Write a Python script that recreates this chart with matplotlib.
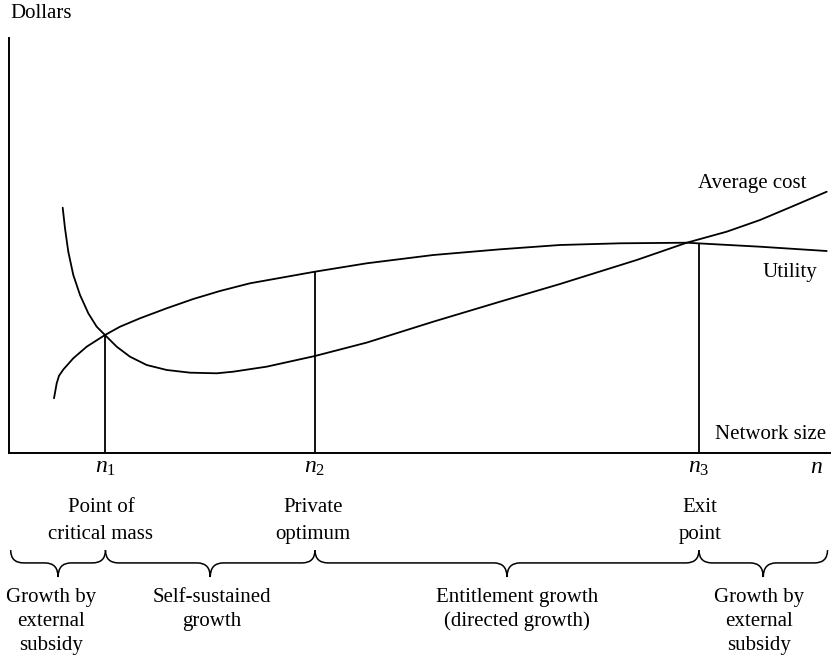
import matplotlib
matplotlib.use('agg')
import matplotlib.pyplot as plt
from matplotlib.path import Path
from matplotlib.patches import PathPatch

plt.rcParams['font.family'] = 'Liberation Serif'
plt.rcParams['mathtext.fontset'] = 'custom'
plt.rcParams['mathtext.rm'] = 'Liberation Serif'
plt.rcParams['mathtext.it'] = 'Liberation Serif:italic'

# curves (network size 0-100, dollars 0-100)
cost_x = [6.54, 6.82, 7.22, 7.83, 8.65, 9.66, 10.68, 11.69, 13.12, 14.74, 16.77,
          19.21, 22.05, 25.30, 27.32, 31.39, 37.27, 43.57, 51.68, 59.81, 67.11,
          76.46, 82.55, 87.42, 91.47, 95.53, 99.60]
cost_y = [59.11, 54.14, 48.51, 42.89, 38.07, 33.66, 30.43, 28.43, 25.61, 23.20, 21.20,
          20.0, 19.35, 19.20, 19.59, 20.80, 23.37, 26.60, 31.64, 36.46, 40.72,
          46.51, 50.67, 53.33, 56.14, 59.52, 62.96]

util_x = [5.48, 5.81, 6.09, 6.61, 7.83, 9.46, 11.69, 13.52, 15.96, 19.21, 22.45,
          25.70, 29.35, 37.27, 43.57, 51.68, 59.81, 67.11, 74.42, 82.55, 91.47, 99.60]
util_y = [13.18, 16.80, 18.60, 20.10, 22.82, 25.61, 28.43, 30.43, 32.46, 34.87, 37.11,
          39.04, 40.89, 43.69, 45.71, 47.71, 49.08, 50.12, 50.53, 50.67, 49.71, 48.67]

# n1, n2, n3 and the heights of their drop lines
n_pos = [11.75, 37.27, 84.04]
n_top = [28.43, 43.69, 50.4]
n_labels = ['$n_1$', '$n_2$', '$n_3$']
point_labels = [['Point of', 'critical mass'], ['Private', 'optimum'], ['Exit', 'point']]
point_x = [11.2, 37.0, 84.2]

brace_edges = [0.2, 11.75, 37.27, 84.04, 99.7]
phase_labels = [['Growth by', 'external', 'subsidy'],
                ['Self-sustained', 'growth'],
                ['Entitlement growth', '(directed growth)'],
                ['Growth by', 'external', 'subsidy']]
phase_x = [5.1, 24.7, 61.9, 91.35]

fig = plt.figure(figsize=(8.34, 6.58), dpi=100)
ax = fig.add_axes([0.0108, 0.3116, 0.9844, 0.6306])
ax.set_xlim(0, 100)
ax.set_ylim(0, 100)
for s in ['top', 'right']:
    ax.spines[s].set_visible(False)
ax.spines['left'].set_linewidth(1.4)
ax.spines['bottom'].set_linewidth(1.4)
ax.set_xticks([])
ax.set_yticks([])

ax.plot(cost_x, cost_y, color='black', lw=1.3, solid_capstyle='round',
        solid_joinstyle='round')
ax.plot(util_x, util_y, color='black', lw=1.3, solid_capstyle='round',
        solid_joinstyle='round')
ax.vlines(n_pos, 0, n_top, colors='black', lw=1.3)

fs = 15
ax.text(0.12, 105.8, 'Dollars', fontsize=fs, ha='left', va='center', clip_on=False)
ax.text(90.5, 65.06, 'Average cost', fontsize=fs, ha='center', va='center')
ax.text(95.07, 43.6, 'Utility', fontsize=fs, ha='center', va='center')
ax.text(92.75, 4.34, 'Network size', fontsize=fs, ha='center', va='center')

for x, lab in zip(n_pos, n_labels):
    ax.text(x, -3.6, lab, fontsize=17, ha='center', va='center', clip_on=False)
ax.text(98.4, -3.6, '$n$', fontsize=17, ha='center', va='center', clip_on=False)

for x, lines in zip(point_x, point_labels):
    for i, line in enumerate(lines):
        ax.text(x, -13.25 - i * 6.5, line, fontsize=fs, ha='center', va='center',
                clip_on=False)

for x, lines in zip(phase_x, phase_labels):
    for i, line in enumerate(lines):
        ax.text(x, -34.9 - i * 5.7, line, fontsize=fs, ha='center', va='center',
                clip_on=False)


def brace(x0, x1, y_top=-23.4, y_mid=-26.5, y_bot=-29.9, r=1.6):
    xc = (x0 + x1) / 2
    verts = [(x0, y_top), (x0, y_mid), (x0 + r, y_mid),
             (xc - r, y_mid),
             (xc, y_mid), (xc, y_bot),
             (xc, y_mid), (xc + r, y_mid),
             (x1 - r, y_mid),
             (x1, y_mid), (x1, y_top)]
    codes = [Path.MOVETO, Path.CURVE3, Path.CURVE3, Path.LINETO,
             Path.CURVE3, Path.CURVE3, Path.CURVE3, Path.CURVE3,
             Path.LINETO, Path.CURVE3, Path.CURVE3]
    ax.add_patch(PathPatch(Path(verts, codes), fill=False, lw=1.1,
                           edgecolor='black', clip_on=False))


for a, b in zip(brace_edges[:-1], brace_edges[1:]):
    brace(a, b)

plt.savefig('out.png', dpi=100)
